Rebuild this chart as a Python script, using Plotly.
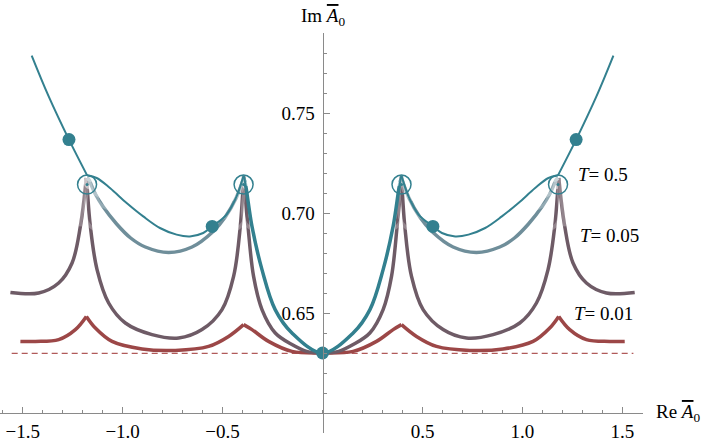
import plotly.graph_objects as go

# thin teal curve
teal_x = [-1.455, -1.37, -1.2685, -1.177, -1.13, -1.0635, -0.98, -0.897, -0.8135, -0.73, -0.6635, -0.597,
          -0.552, -0.48, -0.43, -0.395, -0.387, -0.353, -0.303, -0.237, -0.153, 0.0,
          0.153, 0.237, 0.303, 0.353, 0.387, 0.395, 0.43, 0.48, 0.552, 0.597, 0.6635, 0.73,
          0.8135, 0.897, 0.98, 1.0635, 1.13, 1.177, 1.2685, 1.37, 1.455]
teal_y = [0.7787, 0.7583, 0.7367, 0.7187, 0.7175, 0.7125, 0.705, 0.6983, 0.6925, 0.6892, 0.6883, 0.69,
          0.6933, 0.6992, 0.7083, 0.7187, 0.715, 0.6933, 0.6717, 0.6517, 0.64, 0.63,
          0.64, 0.6517, 0.6717, 0.6933, 0.715, 0.7187, 0.7083, 0.6992, 0.6933, 0.69, 0.6883, 0.6892,
          0.6925, 0.6983, 0.705, 0.7125, 0.7175, 0.7187, 0.7367, 0.7583, 0.7787]
teal_cusps = [-1.177, -0.395, 0.395, 1.177]

# T = 0.5
t05_x = [-1.178, -1.17, -1.1365, -1.1, -1.03, -0.96, -0.8865, -0.77, -0.653, -0.55, -0.4865, -0.43,
         -0.395, -0.387, -0.353, -0.303, -0.237, -0.153, 0.0, 0.153, 0.237, 0.303, 0.353, 0.387,
         0.395, 0.43, 0.4865, 0.55, 0.653, 0.77, 0.8865, 0.96, 1.03, 1.1, 1.1365, 1.17, 1.178]
t05_y = [0.7175, 0.7167, 0.7095, 0.7035, 0.6945, 0.6875, 0.683, 0.6803, 0.683, 0.6905, 0.698, 0.708,
         0.7175, 0.715, 0.6933, 0.6717, 0.6517, 0.64, 0.63, 0.64, 0.6517, 0.6717, 0.6933, 0.715,
         0.7175, 0.708, 0.698, 0.6905, 0.683, 0.6803, 0.683, 0.6875, 0.6945, 0.7035, 0.7095, 0.7167, 0.7175]
t05_cusps = [-0.395, 0.395]

# T = 0.05
t005_x = [-1.5615, -1.42, -1.32, -1.253, -1.2115, -1.1815, -1.178, -1.1615, -1.128, -1.07, -0.9865, -0.853,
          -0.72, -0.603, -0.503, -0.445, -0.4115, -0.395, -0.3915, -0.373, -0.345, -0.303, -0.2365, -0.153,
          -0.08, 0.0, 0.08, 0.153, 0.2365, 0.303, 0.345, 0.373, 0.3915, 0.395, 0.4115, 0.445, 0.503, 0.603,
          0.72, 0.853, 0.9865, 1.07, 1.128, 1.1615, 1.178, 1.1815, 1.2115, 1.253, 1.32, 1.42, 1.5615]
t005_y = [0.6603, 0.66, 0.665, 0.675, 0.6933, 0.7175, 0.7133, 0.6933, 0.6717, 0.655, 0.645, 0.6392,
          0.6375, 0.6417, 0.6517, 0.6683, 0.6933, 0.7183, 0.7133, 0.6933, 0.6683, 0.6517, 0.64, 0.6342,
          0.6308, 0.63, 0.6308, 0.6342, 0.64, 0.6517, 0.6683, 0.6933, 0.7133, 0.7183, 0.6933, 0.6683, 0.6517,
          0.6417, 0.6375, 0.6392, 0.645, 0.655, 0.6717, 0.6933, 0.7133, 0.7175, 0.6933, 0.675, 0.665, 0.66, 0.6603]
t005_cusps = [-1.1815, -0.395, 0.395, 1.1815]

# T = 0.01
t001_x = [-1.5115, -1.4365, -1.32, -1.2365, -1.1815, -1.1365, -1.053, -0.903, -0.7365, -0.57, -0.47, -0.395,
          -0.353, -0.27, -0.153, 0.0, 0.153, 0.27, 0.353, 0.395, 0.47, 0.57, 0.7365, 0.903, 1.053, 1.1365,
          1.1815, 1.2365, 1.32, 1.4365, 1.5115]
t001_y = [0.6358, 0.6358, 0.6367, 0.6417, 0.6483, 0.6425, 0.6358, 0.632, 0.6313, 0.6333, 0.6383, 0.6442,
          0.6417, 0.6358, 0.6308, 0.63, 0.6308, 0.6358, 0.6417, 0.6442, 0.6383, 0.6333, 0.6313, 0.632, 0.6358,
          0.6425, 0.6483, 0.6417, 0.6367, 0.6358, 0.6358]
t001_cusps = [-1.1815, -0.395, 0.395, 1.1815]

# T -> 0 limit (dashed)
limit_x = [-1.555, 1.555]
limit_y = [0.6298, 0.6298]

# marked points
dots_x = [-1.2685, -0.552, 0.0, 0.552, 1.2685]
dots_y = [0.7367, 0.6933, 0.63, 0.6933, 0.7367]
rings_x = [-1.178, -0.395, 0.395, 1.178]
rings_y = [0.7142, 0.7142, 0.7142, 0.7142]

labels = ["<i>T</i>= 0.5", "<i>T</i>= 0.05", "<i>T</i>= 0.01"]
labels_x = [1.2665, 1.2765, 1.2465]
labels_y = [0.7192, 0.6887, 0.6497]

TEAL = "#33808f"
SERIF = "Liberation Serif"


def arcs(xs, ys, cusps):
    # split the curve at the cusps so the spline keeps the sharp peaks
    segs, cx, cy = [], [], []
    for x, y in zip(xs, ys):
        cx.append(x)
        cy.append(y)
        if x in cusps and len(cx) > 1:
            segs.append((cx, cy))
            cx, cy = [x], [y]
    if len(cx) > 1:
        segs.append((cx, cy))
    return segs


def add_curve(fig, xs, ys, cusps, color, width, fades=()):
    for sx, sy in arcs(xs, ys, cusps):
        c = color(sx) if callable(color) else color
        fig.add_trace(go.Scatter(x=sx, y=sy, mode="lines", line=dict(color=c, width=width, shape="spline"),
                                 hoverinfo="skip"))
        # lighter tint towards the peaks
        for thr, alpha in fades:
            px = [x for x, y in zip(sx, sy) if y >= thr]
            py = [y for y in sy if y >= thr]
            if len(px) > 1:
                fig.add_trace(go.Scatter(x=px, y=py, mode="lines",
                                         line=dict(color=f"rgba(255,255,255,{alpha})", width=width, shape="spline"),
                                         hoverinfo="skip"))


fig = go.Figure()

fig.add_trace(go.Scatter(x=limit_x, y=limit_y, mode="lines",
                         line=dict(color="#b05a5a", width=1.3, dash="6px,4px"), hoverinfo="skip"))
add_curve(fig, t001_x, t001_y, t001_cusps, "#9c4747", 3.5)
add_curve(fig, t005_x, t005_y, t005_cusps, "#6e5b66", 3.5, fades=[(0.685, 0.25), (0.70, 0.3), (0.71, 0.3)])
add_curve(fig, t05_x, t05_y, t05_cusps,
          lambda sx: TEAL if min(sx) > -0.4 and max(sx) < 0.4 else "#6f8e9a", 3.5,
          fades=[(0.695, 0.25), (0.705, 0.3), (0.712, 0.3)])
add_curve(fig, teal_x, teal_y, teal_cusps, TEAL, 2)

fig.add_trace(go.Scatter(x=dots_x, y=dots_y, mode="markers",
                         marker=dict(color=TEAL, size=13, line=dict(width=0)), hoverinfo="skip"))
fig.add_trace(go.Scatter(x=rings_x, y=rings_y, mode="markers",
                         marker=dict(symbol="circle-open", color=TEAL, size=19, line=dict(width=1.5)),
                         hoverinfo="skip"))
fig.add_trace(go.Scatter(x=rings_x, y=rings_y, mode="markers",
                         marker=dict(color=TEAL, size=3), hoverinfo="skip"))

for t, x, y in zip(labels, labels_x, labels_y):
    fig.add_annotation(x=x, y=y, text=t, showarrow=False, xanchor="left", yanchor="middle",
                       font=dict(family=SERIF, size=19, color="black"))

axis_title = "{} <span style='text-decoration:overline'><i>A</i></span><sub>0</sub>"
fig.add_annotation(x=0, y=1, xref="x", yref="paper", yshift=16, text=axis_title.format("Im"),
                   showarrow=False, xanchor="center", yanchor="middle",
                   font=dict(family=SERIF, size=19, color="black"))
fig.add_annotation(x=1, y=0.6, xref="paper", yref="y", xshift=11, text=axis_title.format("Re"),
                   showarrow=False, xanchor="left", yanchor="middle",
                   font=dict(family=SERIF, size=19, color="black"))

axis_col = "#8a8a8a"
fig.update_layout(
    width=706, height=444,
    margin=dict(l=0, r=63, t=33, b=11, autoexpand=False),
    paper_bgcolor="white", plot_bgcolor="white",
    font=dict(family=SERIF, size=19, color="black"),
    showlegend=False,
    xaxis=dict(range=[-1.6135, 1.603], anchor="free", position=0.05, automargin=False,
               showgrid=False, zeroline=False, showline=True, linecolor=axis_col, linewidth=1,
               tickvals=[-1.5, -1.0, -0.5, 0.5, 1.0, 1.5],
               ticktext=["\u22121.5", "\u22121.0", "\u22120.5", "0.5", "1.0", "1.5"],
               ticks="inside", ticklen=6, tickcolor=axis_col, ticklabelstandoff=1,
               ticklabeloverflow="allow",
               minor=dict(dtick=0.1, tick0=0, ticks="inside", ticklen=3.5, tickcolor=axis_col),
               tickfont=dict(family=SERIF, size=19, color="black")),
    yaxis=dict(range=[0.59, 0.79], anchor="free", position=0.50164, automargin=False,
               showgrid=False, zeroline=False, showline=True, linecolor=axis_col, linewidth=1,
               tickvals=[0.65, 0.70, 0.75], ticktext=["0.65", "0.70", "0.75"],
               ticks="inside", ticklen=6, tickcolor=axis_col, ticklabelstandoff=4,
               minor=dict(dtick=0.01, tick0=0.59, ticks="inside", ticklen=3.5, tickcolor=axis_col),
               tickfont=dict(family=SERIF, size=19, color="black")),
)

# drop the default page margin so the figure fills the window
fig.write_html("out.html", config={"displayModeBar": False},
               post_script="document.body.style.margin='0';document.body.style.overflow='hidden';")
